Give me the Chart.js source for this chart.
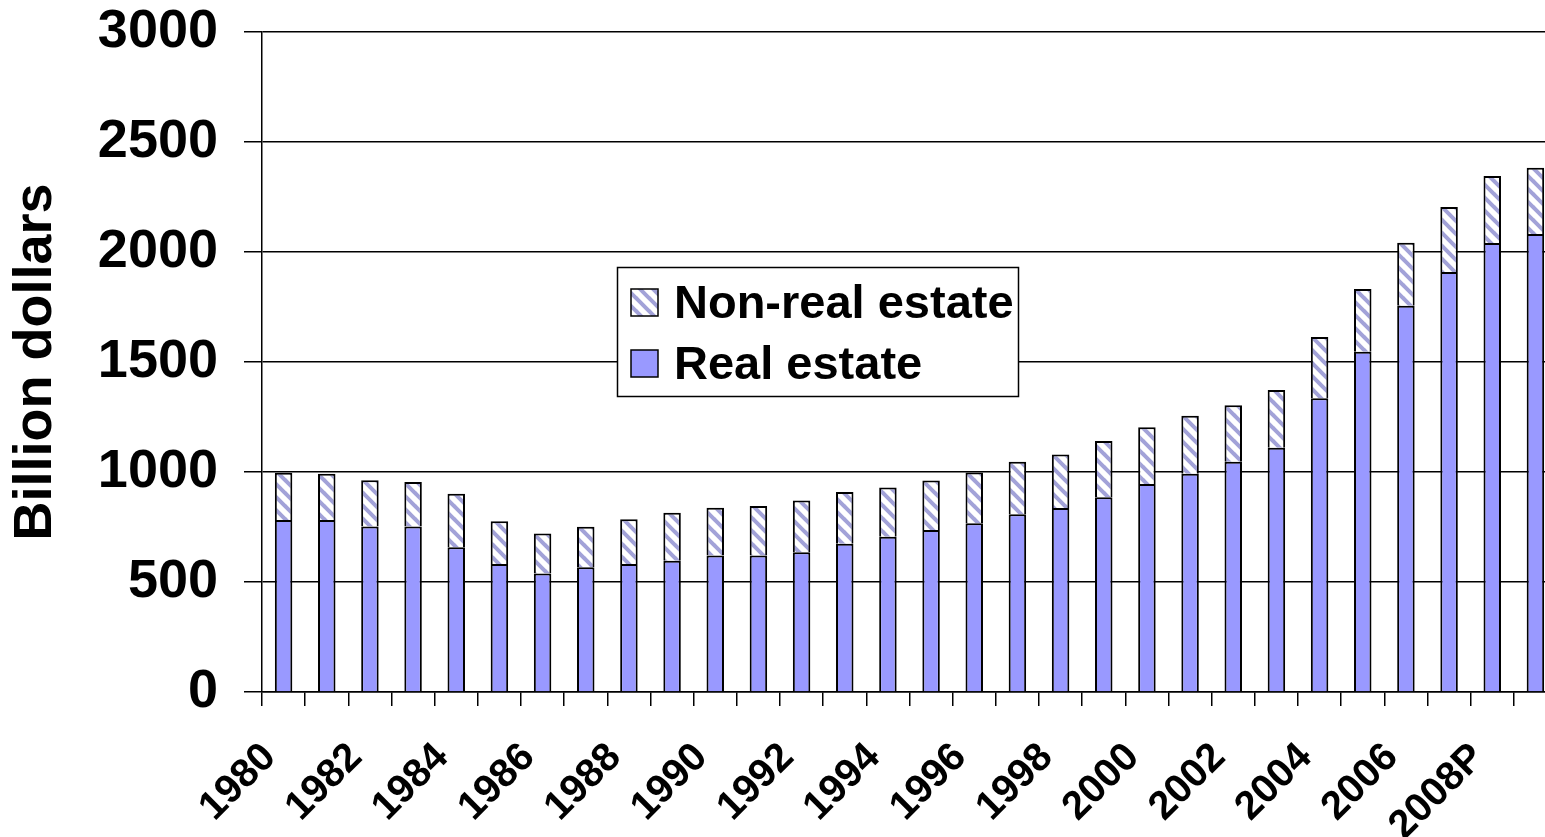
<!DOCTYPE html>
<html>
<head>
<meta charset="utf-8">
<script src="https://cdn.jsdelivr.net/npm/chart.js@4.4.1/dist/chart.umd.min.js"></script>
<style>
  html, body { margin: 0; padding: 0; background: #ffffff; overflow: hidden; }
  #wrap { position: absolute; left: 0; top: 0; width: 1560px; height: 837px; }
</style>
</head>
<body>
<div id="wrap"><canvas id="c" width="1560" height="837"></canvas></div>
<script>
const categories = ['1980','1981','1982','1983','1984','1985','1986','1987','1988','1989',
  '1990','1991','1992','1993','1994','1995','1996','1997','1998','1999',
  '2000','2001','2002','2003','2004','2005','2006','2007','2008P','2009F'];
const realEstate = [782,782,752,752,658,582,539,567,582,597,
  620,620,635,674,706,736,767,808,836,885,
  945,992,1047,1110,1335,1547,1756,1909,2041,2082];
const nonRealEstate = [215,210,210,203,243,194,182,184,203,218,
  218,225,235,235,224,225,231,239,243,256,
  258,264,256,263,279,285,286,296,304,301];
const yTicks = [0,500,1000,1500,2000,2500,3000];
const seriesNames = ['Real estate','Non-real estate'];

function makeHatch() {
  const s = 13;
  const p = document.createElement('canvas');
  p.width = s; p.height = s;
  const g = p.getContext('2d');
  g.fillStyle = '#ffffff';
  g.fillRect(0, 0, s, s);
  g.strokeStyle = '#a2a2d8';
  g.lineWidth = 4;
  g.lineCap = 'square';
  for (const c of [-s, 0, s]) {
    g.beginPath();
    g.moveTo(-1, c - 1);
    g.lineTo(s + 1, s + c + 1);
    g.stroke();
  }
  return document.getElementById('c').getContext('2d').createPattern(p, 'repeat');
}
const hatch = makeHatch();

const legendBox = {
  id: 'legendBox',
  afterDraw(chart, args, o) {
    const ctx = chart.ctx;
    ctx.save();
    ctx.fillStyle = '#ffffff';
    ctx.fillRect(o.x, o.y, o.w, o.h);
    ctx.strokeStyle = '#000000';
    ctx.lineWidth = 1.5;
    ctx.strokeRect(o.x + 0.5, o.y + 0.5, o.w, o.h);
    const order = [1, 0];
    ctx.font = 'bold ' + o.fontSize + 'px "Liberation Sans", Arial, sans-serif';
    ctx.textBaseline = 'middle';
    ctx.textAlign = 'left';
    order.forEach((di, row) => {
      const ds = chart.data.datasets[di];
      const sy = o.y + o.rowTop + row * o.rowGap;
      ctx.fillStyle = ds.backgroundColor;
      ctx.fillRect(o.x + o.swX, sy, o.sw, o.sw);
      ctx.strokeStyle = '#000000';
      ctx.lineWidth = 1.5;
      ctx.strokeRect(o.x + o.swX, sy, o.sw, o.sw);
      ctx.fillStyle = '#000000';
      ctx.fillText(ds.label, o.x + o.textX, sy + o.sw / 2 + 3);
    });
    ctx.restore();
  }
};

new Chart(document.getElementById('c'), {
  type: 'bar',
  data: {
    labels: categories,
    datasets: [
      { label: seriesNames[0], data: realEstate, backgroundColor: '#9999ff',
        borderColor: '#000000', borderWidth: 2 },
      { label: seriesNames[1], data: nonRealEstate, backgroundColor: hatch,
        borderColor: '#000000', borderWidth: 2 }
    ]
  },
  options: {
    responsive: false,
    animation: false,
    devicePixelRatio: 1,
    layout: { padding: { top: 32, right: 3, left: 0, bottom: 0 } },
    datasets: { bar: { categoryPercentage: 1.0, barPercentage: 0.405 } },
    plugins: {
      legend: { display: false },
      tooltip: { enabled: false },
      legendBox: { x: 617, y: 267, w: 401, h: 129, swX: 14, sw: 27, rowTop: 22, rowGap: 61, textX: 57, fontSize: 47 }
    },
    scales: {
      x: {
        stacked: true,
        offset: true,
        border: { display: true, color: '#000000', width: 1.5 },
        grid: { display: true, drawOnChartArea: false, drawTicks: true, tickLength: 14, color: '#000000', lineWidth: 1.5, offset: true },
        ticks: {
          autoSkip: false,
          minRotation: 45, maxRotation: 45,
          padding: 28,
          labelOffset: -14,
          color: '#000000',
          font: { family: '"Liberation Sans", Arial, sans-serif', size: 40, weight: 'bold' },
          callback: function(v, i) { return i % 2 === 0 ? categories[i] : ''; }
        },
        afterFit: function(s) { s.height = 145; s.paddingLeft = 0; s.paddingRight = 0; }
      },
      y: {
        stacked: true,
        min: 0, max: 3000,
        afterBuildTicks: function(s) { s.ticks = yTicks.map(v => ({ value: v })); },
        border: { display: true, color: '#000000', width: 1.5 },
        grid: { color: '#000000', lineWidth: 1.5, tickLength: 18 },
        ticks: {
          padding: 26,
          color: '#000000',
          font: { family: '"Liberation Sans", Arial, sans-serif', size: 54, weight: 'bold' },
          callback: function(v) { return String(v); }
        },
        title: {
          display: true,
          text: 'Billion dollars',
          color: '#000000',
          padding: { top: 4, bottom: 0 },
          font: { family: '"Liberation Sans", Arial, sans-serif', size: 54, weight: 'bold' }
        },
        afterFit: function(s) { s.width = 262; s.paddingTop = 0; s.paddingBottom = 0; }
      }
    }
  },
  plugins: [legendBox]
});
</script>
</body>
</html>
